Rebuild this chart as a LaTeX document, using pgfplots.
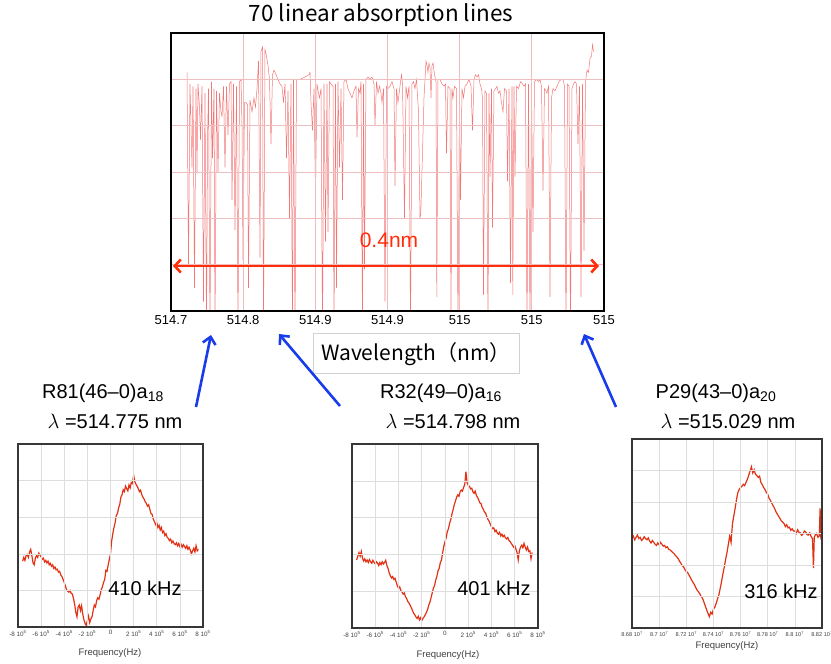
\documentclass[border=0pt]{standalone}
\usepackage{pgfplots}
\pgfplotsset{compat=1.18}
\usepackage{fontspec}
\setmainfont{Liberation Sans}
\newfontfamily\jp{Noto Sans CJK JP}
\usetikzlibrary{arrows.meta}

\definecolor{specred}{RGB}{242,120,120}
\definecolor{specgrid}{RGB}{238,190,190}
\definecolor{sigred}{RGB}{226,50,22}
\definecolor{arrowblue}{RGB}{25,60,235}
\definecolor{spanred}{RGB}{255,45,10}
\definecolor{frame}{RGB}{55,55,55}
\definecolor{lightgrid}{RGB}{222,222,222}

\newcommand\fs[1]{\fontsize{#1}{#1}\selectfont}

% absorption spectrum: wavelength (nm), transmitted signal (arb.)
\pgfplotstableread{
x y
514.716 5.15
514.7175 1.0
514.719 4.9
514.721 3.1
514.722 4.85
514.7235 0.5
514.725 4.8
514.726 3.0
514.727 4.9
514.7285 4.4
514.7295 3.7
514.731 4.85
514.7325 0.2
514.734 4.7
514.7355 -0.5
514.7365 3.7
514.7375 4.8
514.739 -0.5
514.7405 4.95
514.7415 3.3
514.743 4.8
514.744 -0.5
514.7455 4.75
514.747 3.0
514.7485 4.7
514.750 4.3
514.751 4.2
514.7525 4.85
514.754 3.1
514.7555 4.85
514.757 3.8
514.7585 4.9
514.760 4.95
514.761 2.4
514.7625 4.9
514.764 1.75
514.7655 4.85
514.767 -0.5
514.7685 4.95
514.770 5.0
514.771 4.0
514.772 1.1
514.7735 4.5
514.775 4.5
514.7765 4.45
514.7775 0.5
514.779 4.55
514.781 4.3
514.783 4.6
514.7845 4.4
514.786 4.8
514.7875 5.4
514.789 1.15
514.790 5.6
514.7915 5.7
514.7925 -0.5
514.794 5.65
514.7955 5.5
514.797 5.3
514.7985 5.0
514.800 3.6
514.8015 5.1
514.803 5.2
514.805 5.1
514.807 5.0
514.809 4.9
514.811 4.85
514.8125 4.5
514.814 4.9
514.8155 3.3
514.817 4.75
514.8185 2.0
514.820 4.9
514.8215 -0.5
514.8225 5.0
514.824 -0.5
514.8255 5.0
514.829 5.0
514.834 5.05
514.838 5.1
514.839 5.15
514.840 4.5
514.8415 3.9
514.843 4.8
514.8445 2.5
514.846 4.9
514.8475 4.7
514.8485 4.6
514.850 4.8
514.8515 -0.5
514.853 4.9
514.8545 1.5
514.856 4.9
514.857 1.7
514.8585 4.95
514.860 4.9
514.862 4.85
514.863 -0.5
514.8645 4.9
514.8655 0.5
514.867 4.95
514.8685 3.1
514.870 4.8
514.8715 2.4
514.873 4.95
514.875 5.0
514.877 4.8
514.879 4.7
514.881 4.6
514.883 4.75
514.885 4.85
514.886 3.75
514.8875 4.8
514.889 4.7
514.890 4.95
514.8915 -0.5
514.8925 4.9
514.8935 0.9
514.895 5.0
514.897 5.05
514.899 5.0
514.901 5.05
514.903 4.9
514.904 4.0
514.9055 4.95
514.907 4.7
514.9085 4.85
514.910 4.7
514.911 4.5
514.9125 4.8
514.914 0.2
514.9155 4.85
514.917 4.8
514.919 4.85
514.921 4.95
514.923 4.8
514.924 2.7
514.9255 4.8
514.927 4.5
514.929 4.85
514.9305 5.1
514.9315 4.9
514.9335 2.0
514.935 4.85
514.9365 4.6
514.938 4.85
514.9395 -0.5
514.941 4.9
514.9425 4.95
514.944 4.8
514.9455 5.0
514.9475 4.3
514.949 2.0
514.9498 2.1
514.953 4.6
514.955 5.4
514.956 5.3
514.957 5.15
514.958 5.35
514.959 5.25
514.960 4.6
514.961 5.3
514.962 5.35
514.9635 5.1
514.965 4.95
514.9658 0.3
514.967 5.0
514.969 5.0
514.971 4.9
514.973 4.85
514.9745 4.9
514.9755 3.4
514.977 4.85
514.979 4.8
514.980 -0.5
514.981 4.8
514.982 4.6
514.9835 4.85
514.9855 4.8
514.987 -0.5
514.9885 4.6
514.9895 2.4
514.991 4.8
514.9925 4.6
514.994 4.85
514.996 4.9
514.998 5.0
515.000 4.85
515.0015 3.9
515.003 5.0
515.0045 5.1
515.006 5.05
515.0075 5.1
515.009 4.9
515.0105 4.8
515.0115 4.6
515.0125 0.35
515.014 4.75
515.0155 4.7
515.017 -0.5
515.018 4.7
515.019 2.9
515.0205 4.8
515.0215 1.8
515.023 4.75
515.0245 4.8
515.026 4.85
515.0275 4.7
515.029 4.75
515.0305 4.5
515.032 4.3
515.0335 4.8
515.0355 4.75
515.0365 2.8
515.038 4.8
515.0395 0.6
515.041 4.85
515.0418 0.35
515.043 4.85
515.044 2.9
515.0455 4.85
515.0475 4.8
515.0495 4.95
515.0515 4.9
515.053 4.85
515.0545 4.9
515.056 -0.5
515.0575 4.9
515.059 -0.5
515.0605 4.85
515.062 1.7
515.0635 4.95
515.0655 5.0
515.0675 4.95
515.069 5.0
515.0705 4.85
515.072 2.6
515.0735 4.8
515.075 4.75
515.076 4.7
515.0775 4.85
515.079 0.3
515.0805 4.6
515.082 4.8
515.084 4.75
515.086 4.85
515.088 4.95
515.090 5.0
515.092 5.0
515.0935 4.85
515.095 -0.5
515.0965 4.9
515.098 4.85
515.0995 -0.5
515.101 4.8
515.1025 4.9
515.104 4.95
515.1055 4.9
515.107 3.6
515.1085 4.85
515.110 0.3
515.1115 4.9
515.113 1.3
515.1145 4.95
515.116 5.2
515.1175 5.15
515.119 5.45
515.1205 5.5
515.1215 5.75
515.1225 5.6
}\spectrum

% R81(46-0)a18 : offset frequency (1e5 Hz), error signal (arb.)
\pgfplotstableread{
x y
-7.6 1.80
-7.5 1.90
-7.4 1.82
-7.3 1.95
-7.2 1.98
-7.1 1.90
-7.0 2.05
-6.9 2.12
-6.8 1.95
-6.7 1.75
-6.6 1.70
-6.5 1.88
-6.4 1.95
-6.3 1.90
-6.2 2.02
-6.1 1.96
-6.0 1.92
-5.9 1.85
-5.8 1.88
-5.7 1.78
-5.6 1.82
-5.5 1.75
-5.4 1.80
-5.3 1.70
-5.2 1.74
-5.1 1.66
-5.0 1.70
-4.9 1.60
-4.8 1.64
-4.7 1.56
-4.6 1.58
-4.5 1.50
-4.4 1.52
-4.3 1.42
-4.2 1.38
-4.1 1.30
-4.0 1.22
-3.9 1.12
-3.8 1.02
-3.7 0.98
-3.6 0.95
-3.5 1.00
-3.4 0.92
-3.3 0.90
-3.2 0.78
-3.1 0.62
-3.0 0.40
-2.9 0.28
-2.8 0.55
-2.7 0.60
-2.6 0.45
-2.5 0.58
-2.4 0.35
-2.3 0.20
-2.2 0.10
-2.1 0.04
-2.0 0.18
-1.9 0.30
-1.8 0.12
-1.7 0.22
-1.6 0.28
-1.5 0.45
-1.4 0.60
-1.3 0.55
-1.2 0.72
-1.1 0.80
-1.0 0.76
-0.9 0.88
-0.8 1.02
-0.7 1.10
-0.6 1.22
-0.5 1.30
-0.4 1.55
-0.3 1.52
-0.2 1.70
-0.1 1.85
0.0 2.00
0.1 2.35
0.2 2.55
0.3 2.72
0.4 2.85
0.5 3.05
0.6 3.10
0.7 3.25
0.8 3.35
0.9 3.55
1.0 3.62
1.1 3.75
1.2 3.70
1.3 3.85
1.4 3.78
1.5 3.72
1.6 3.88
1.7 3.80
1.8 3.95
1.9 3.92
2.0 4.15
2.1 3.98
2.2 3.90
2.3 3.85
2.4 3.78
2.5 3.70
2.6 3.74
2.7 3.62
2.8 3.55
2.9 3.50
3.0 3.42
3.1 3.38
3.2 3.30
3.3 3.34
3.4 3.22
3.5 3.10
3.6 3.08
3.7 2.95
3.8 2.88
3.9 2.80
4.0 2.85
4.1 2.72
4.2 2.78
4.3 2.65
4.4 2.72
4.5 2.58
4.6 2.62
4.7 2.50
4.8 2.55
4.9 2.45
5.0 2.42
5.1 2.36
5.2 2.40
5.3 2.30
5.4 2.35
5.5 2.28
5.6 2.25
5.7 2.30
5.8 2.22
5.9 2.28
6.0 2.20
6.1 2.26
6.2 2.18
6.3 2.25
6.4 2.20
6.5 2.15
6.6 2.22
6.7 2.12
6.8 2.18
6.9 2.10
7.0 2.00
7.1 2.08
7.2 2.15
7.3 2.05
7.4 2.22
7.5 2.08
7.6 2.12
}\lineA

% R32(49-0)a16
\pgfplotstableread{
x y
-7.6 1.85
-7.5 1.95
-7.4 2.05
-7.3 1.95
-7.2 2.08
-7.1 1.90
-7.0 1.82
-6.9 1.88
-6.8 1.80
-6.7 1.85
-6.6 1.78
-6.5 1.86
-6.4 1.80
-6.3 1.76
-6.2 1.84
-6.1 1.78
-6.0 1.74
-5.9 1.80
-5.8 1.76
-5.7 1.70
-5.6 1.78
-5.5 1.72
-5.4 1.80
-5.3 1.74
-5.2 1.78
-5.1 1.84
-5.0 1.70
-4.9 1.62
-4.8 1.50
-4.7 1.42
-4.6 1.36
-4.5 1.40
-4.4 1.32
-4.3 1.35
-4.2 1.25
-4.1 1.15
-4.0 1.08
-3.9 1.12
-3.8 1.02
-3.7 0.98
-3.6 0.92
-3.5 0.95
-3.4 0.85
-3.3 0.80
-3.2 0.72
-3.1 0.68
-3.0 0.62
-2.9 0.55
-2.8 0.48
-2.7 0.40
-2.6 0.36
-2.5 0.30
-2.4 0.26
-2.3 0.32
-2.2 0.22
-2.1 0.28
-2.0 0.20
-1.9 0.26
-1.8 0.30
-1.7 0.36
-1.6 0.42
-1.5 0.50
-1.4 0.62
-1.3 0.70
-1.2 0.82
-1.1 0.95
-1.0 1.08
-0.9 1.15
-0.8 1.30
-0.7 1.40
-0.6 1.55
-0.5 1.62
-0.4 1.78
-0.3 1.85
-0.2 2.05
-0.1 2.22
0.0 2.35
0.1 2.45
0.2 2.62
0.3 2.70
0.4 2.85
0.5 2.95
0.6 3.10
0.7 3.22
0.8 3.35
0.9 3.45
1.0 3.55
1.1 3.62
1.2 3.58
1.3 3.70
1.4 3.75
1.5 3.72
1.6 3.82
1.7 3.90
1.8 4.25
1.9 3.95
2.0 3.88
2.1 3.85
2.2 3.78
2.3 3.80
2.4 3.70
2.5 3.66
2.6 3.72
2.7 3.60
2.8 3.55
2.9 3.48
3.0 3.40
3.1 3.38
3.2 3.28
3.3 3.22
3.4 3.15
3.5 3.12
3.6 3.02
3.7 2.95
3.8 2.90
3.9 2.82
4.0 2.75
4.1 2.70
4.2 2.72
4.3 2.62
4.4 2.66
4.5 2.58
4.6 2.55
4.7 2.60
4.8 2.50
4.9 2.55
5.0 2.48
5.1 2.52
5.2 2.45
5.3 2.42
5.4 2.46
5.5 2.38
5.6 2.35
5.7 2.30
5.8 2.25
5.9 2.20
6.0 2.24
6.1 2.15
6.2 2.05
6.3 1.85
6.4 2.10
6.5 2.20
6.6 2.25
6.7 2.18
6.8 2.30
6.9 2.20
7.0 2.12
7.1 2.20
7.2 2.08
7.3 2.10
7.4 1.88
7.5 2.05
}\lineB

% P29(43-0)a20 : frequency (1e7 Hz)
\pgfplotstableread{
x y
8.680 2.86
8.681 2.92
8.682 2.80
8.683 2.88
8.684 2.95
8.685 2.84
8.686 2.88
8.687 2.78
8.688 2.82
8.689 2.90
8.690 2.84
8.691 2.80
8.692 2.86
8.693 2.76
8.694 2.70
8.695 2.78
8.696 2.72
8.697 2.66
8.698 2.62
8.699 2.70
8.700 2.64
8.701 2.72
8.702 2.66
8.703 2.60
8.704 2.62
8.705 2.55
8.706 2.58
8.707 2.50
8.708 2.48
8.709 2.44
8.710 2.40
8.711 2.36
8.712 2.30
8.713 2.26
8.714 2.20
8.715 2.12
8.716 2.06
8.717 1.98
8.718 1.94
8.719 1.85
8.720 1.80
8.721 1.76
8.722 1.68
8.723 1.60
8.724 1.52
8.725 1.44
8.726 1.38
8.727 1.28
8.728 1.20
8.729 1.15
8.730 1.08
8.731 1.00
8.732 0.94
8.733 0.82
8.734 0.70
8.735 0.58
8.736 0.46
8.737 0.36
8.738 0.50
8.739 0.44
8.740 0.60
8.741 0.66
8.742 0.78
8.743 0.92
8.744 1.05
8.745 1.26
8.746 1.48
8.747 1.72
8.748 1.94
8.749 2.18
8.750 2.40
8.751 2.66
8.752 2.92
8.753 2.72
8.754 3.30
8.755 3.56
8.756 3.80
8.757 4.08
8.758 4.30
8.759 4.40
8.760 4.46
8.761 4.50
8.762 4.56
8.763 4.52
8.764 4.62
8.765 4.72
8.766 4.85
8.767 4.98
8.768 5.12
8.769 4.92
8.770 5.02
8.771 4.88
8.772 4.84
8.773 4.78
8.774 4.82
8.775 4.62
8.776 4.55
8.777 4.46
8.778 4.40
8.779 4.30
8.780 4.25
8.781 4.12
8.782 4.05
8.783 3.96
8.784 3.88
8.785 3.80
8.786 3.70
8.787 3.62
8.788 3.55
8.789 3.48
8.790 3.40
8.791 3.36
8.792 3.32
8.793 3.22
8.794 3.28
8.795 3.18
8.796 3.20
8.797 3.10
8.798 3.15
8.799 3.08
8.800 3.08
8.801 3.00
8.802 3.12
8.803 3.04
8.804 3.02
8.805 2.94
8.806 2.98
8.807 3.08
8.808 3.05
8.809 2.96
8.810 2.95
8.811 3.02
8.812 2.90
8.813 2.84
8.8137 1.90
8.8143 2.88
8.815 2.95
8.816 3.00
8.817 2.88
8.818 2.92
8.8186 3.80
8.819 2.95
8.8195 3.05
8.820 3.00
}\lineC

\pgfplotsset{
  sig/.style={
    scale only axis, anchor=south west,
    axis line style={draw=frame, line width=1.3pt},
    grid=major, major grid style={draw=lightgrid, line width=0.6pt},
    major tick length=0pt, yticklabels={},
    xticklabel style={font=\fs{6.3}, text=black!75},
    axis on top,
  },
}

\begin{document}
\begin{tikzpicture}
\useasboundingbox (0pt,0pt) rectangle (831pt,-664pt);

% wide spectrum
\begin{axis}[
  at={(171pt,-311pt)}, anchor=south west,
  scale only axis, width=433pt, height=278pt,
  xmin=514.7, xmax=515.133, ymin=0, ymax=6,
  xtick={514.7,514.7722,514.8443,514.9165,514.9887,515.0608,515.133},
  xticklabels={514.7,514.8,514.9,514.9,515,515,515},
  ytick={0,1,2,3,4,5,6}, yticklabels={},
  major tick length=0pt,
  grid=major, major grid style={draw=specgrid, line width=0.7pt},
  axis line style={draw=black, line width=2.4pt},
  axis on top,
  xticklabel style={font=\fs{13}, yshift=-1pt},
]
\addplot[specred, line width=0.5pt] table {\spectrum};
\end{axis}

% line profiles
\begin{axis}[sig, at={(18pt,-627pt)}, width=185pt, height=183pt,
  xmin=-8, xmax=8, ymin=0, ymax=5, ytick={0,...,5},
  xtick={-8,-6,...,8},
  xticklabels={{-8 10\textsuperscript{5}},{-6 10\textsuperscript{5}},{-4 10\textsuperscript{5}},{-2 10\textsuperscript{5}},0,{2 10\textsuperscript{5}},{4 10\textsuperscript{5}},{6 10\textsuperscript{5}},{8 10\textsuperscript{5}}}]
\addplot[sigred, line width=1.2pt] table {\lineA};
\end{axis}

\begin{axis}[sig, at={(352pt,-628pt)}, width=186pt, height=184pt,
  xmin=-8, xmax=8, ymin=0, ymax=5, ytick={0,...,5},
  xtick={-8,-6,...,8},
  xticklabels={{-8 10\textsuperscript{5}},{-6 10\textsuperscript{5}},{-4 10\textsuperscript{5}},{-2 10\textsuperscript{5}},0,{2 10\textsuperscript{5}},{4 10\textsuperscript{5}},{6 10\textsuperscript{5}},{8 10\textsuperscript{5}}}]
\addplot[sigred, line width=1.2pt] table {\lineB};
\end{axis}

\begin{axis}[sig, at={(632pt,-628pt)}, width=190pt, height=189pt,
  xmin=8.68, xmax=8.82, ymin=0, ymax=6, ytick={0,...,6},
  xtick={8.68,8.70,8.72,8.74,8.76,8.78,8.80,8.82},
  xticklabel style={font=\fs{5.6}},
  xticklabels={{8.68 10\textsuperscript{7}},{8.7 10\textsuperscript{7}},{8.72 10\textsuperscript{7}},{8.74 10\textsuperscript{7}},{8.76 10\textsuperscript{7}},{8.78 10\textsuperscript{7}},{8.8 10\textsuperscript{7}},{8.82 10\textsuperscript{7}}}]
\addplot[sigred, line width=1.2pt] table {\lineC};
\end{axis}

% titles and annotations
\node[font=\jp\fs{22.5}] at (381pt,-15pt) {70 linear absorption lines};
\draw[black!18, line width=0.8pt] (313pt,-333pt) rectangle (519pt,-373pt);
\node[font=\jp\fs{21}] at (416pt,-354pt) {Wavelength（nm）};

\draw[spanred, line width=2.6pt,
  {Straight Barb[length=6pt,width=13pt]}-{Straight Barb[length=6pt,width=13pt]}]
  (173pt,-266pt) -- (599pt,-266pt);
\node[font=\fs{21}, text=spanred] at (389pt,-240pt) {0.4nm};

\draw[arrowblue, line width=2.6pt, -{Straight Barb[length=7pt,width=13pt]}]
  (196pt,-407pt) -- (211pt,-335pt);
\draw[arrowblue, line width=2.6pt, -{Straight Barb[length=7pt,width=13pt]}]
  (340pt,-406pt) -- (279pt,-334pt);
\draw[arrowblue, line width=2.6pt, -{Straight Barb[length=7pt,width=13pt]}]
  (616pt,-407pt) -- (584pt,-334pt);

\node[font=\fs{20}] at (103pt,-393pt) {R81(46–0)a\textsubscript{18}};
\node[font=\fs{20}] at (115pt,-421pt) {$\lambda$ =514.775 nm};
\node[font=\fs{20}] at (441pt,-393pt) {R32(49–0)a\textsubscript{16}};
\node[font=\fs{20}] at (453pt,-421pt) {$\lambda$ =514.798 nm};
\node[font=\fs{20}] at (716pt,-393pt) {P29(43–0)a\textsubscript{20}};
\node[font=\fs{20}] at (728pt,-421pt) {$\lambda$ =515.029 nm};

\node[font=\fs{20}] at (145pt,-588pt) {410 kHz};
\node[font=\fs{20}] at (494pt,-588pt) {401 kHz};
\node[font=\fs{20}] at (781pt,-591pt) {316 kHz};

\node[font=\fs{9.5}, text=black!75] at (110pt,-653pt) {Frequency(Hz)};
\node[font=\fs{9.5}, text=black!75] at (448pt,-655pt) {Frequency(Hz)};
\node[font=\fs{9.5}, text=black!75] at (727pt,-646pt) {Frequency(Hz)};
\end{tikzpicture}
\end{document}
